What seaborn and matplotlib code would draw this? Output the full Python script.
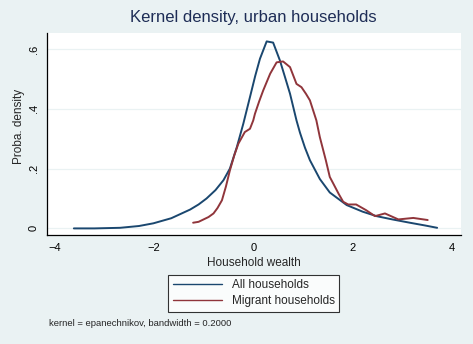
import numpy as np
import pandas as pd
import matplotlib
matplotlib.use("Agg")
import matplotlib.pyplot as plt
import seaborn as sns

# Valores (densidade kernel estimada)
x_all = [-3.61, -3.2, -2.68, -2.3, -2.01, -1.65, -1.27, -1.1, -0.94, -0.76, -0.60,
         -0.47, -0.33, -0.2, -0.066, 0.04, 0.135, 0.27, 0.40, 0.537, 0.64, 0.74,
         0.87, 0.94, 1.04, 1.14, 1.34, 1.54, 1.88, 2.2, 2.48, 2.8, 3.15, 3.45, 3.70]
y_all = [0.0, 0.0, 0.002, 0.008, 0.017, 0.034, 0.063, 0.08, 0.1, 0.128, 0.161,
         0.2, 0.272, 0.35, 0.439, 0.51, 0.567, 0.625, 0.621, 0.561, 0.505, 0.45,
         0.361, 0.32, 0.27, 0.228, 0.165, 0.12, 0.078, 0.056, 0.041, 0.03, 0.019,
         0.01, 0.002]

x_mig = [-1.21, -1.1, -1.0, -0.9, -0.8, -0.72, -0.63, -0.55, -0.47, -0.38, -0.30,
         -0.17, -0.066, 0.0, 0.034, 0.12, 0.2, 0.34, 0.47, 0.60, 0.74, 0.87, 0.97,
         1.06, 1.14, 1.27, 1.34, 1.46, 1.54, 1.61, 1.72, 1.81, 1.91, 2.07, 2.27,
         2.45, 2.65, 2.92, 3.22, 3.51]
y_mig = [0.019, 0.022, 0.03, 0.038, 0.05, 0.068, 0.094, 0.14, 0.194, 0.245, 0.283,
         0.322, 0.333, 0.361, 0.383, 0.425, 0.461, 0.517, 0.555, 0.558, 0.539,
         0.483, 0.472, 0.45, 0.428, 0.361, 0.305, 0.228, 0.172, 0.15, 0.115, 0.089,
         0.08, 0.08, 0.061, 0.041, 0.05, 0.03, 0.035, 0.028]

x_ticks = [-4, -2, 0, 2, 4]
y_ticks = [0, 0.2, 0.4, 0.6]
y_tick_labels = ["0", ".2", ".4", ".6"]

BG = "#eaf2f3"
AZUL = "#1a476f"
VERMELHO = "#90353b"

df = pd.concat([
    pd.DataFrame({"x": x_all, "y": y_all, "grupo": "All households"}),
    pd.DataFrame({"x": x_mig, "y": y_mig, "grupo": "Migrant households"}),
])

sns.set_style("white")
plt.rcParams["font.family"] = ["Liberation Sans", "DejaVu Sans"]

fig = plt.figure(figsize=(4.73, 3.44), dpi=100, facecolor=BG)
ax = fig.add_axes([0.0994, 0.3169, 0.8752, 0.5871])
ax.set_facecolor("white")

sns.lineplot(data=df, x="x", y="y", hue="grupo", palette=[AZUL, VERMELHO],
             linewidth=1.4, ax=ax, legend=False, sort=False)

ax.set_xlim(-4.15, 4.18)
ax.set_ylim(-0.022, 0.653)
ax.set_xticks(x_ticks)
ax.set_xticklabels([str(t).replace("-", "\u2212") for t in x_ticks])
ax.set_yticks(y_ticks)
ax.set_yticklabels(y_tick_labels, rotation=90, va="center")
for y in y_ticks:
    ax.axhline(y, color=BG, linewidth=0.9, zorder=0)

for s in ["top", "right"]:
    ax.spines[s].set_visible(False)
for s in ["left", "bottom"]:
    ax.spines[s].set_color("black")
    ax.spines[s].set_linewidth(0.9)
ax.tick_params(axis="both", direction="out", length=4, width=0.8,
               labelsize=8, colors="black", pad=2)

ax.set_xlabel("Household wealth", fontsize=8.5, labelpad=3)
ax.set_ylabel("Proba. density", fontsize=8.5, labelpad=3)
ax.yaxis.label.set_y(0.535)

fig.text(0.536, 0.95, "Kernel density, urban households", ha="center", va="center",
         fontsize=12, color="#1e2d56")

handles = [plt.Line2D([], [], color=AZUL, linewidth=1),
           plt.Line2D([], [], color=VERMELHO, linewidth=1)]
leg = fig.legend(handles, ["All households", "Migrant households"],
                 loc="center", bbox_to_anchor=(0.536, 0.147), fontsize=8.5,
                 frameon=True, fancybox=False, handlelength=4.2, handletextpad=0.8,
                 borderpad=0.35, labelspacing=0.35)
leg.get_frame().set_edgecolor("black")
leg.get_frame().set_linewidth(0.8)
leg.get_frame().set_facecolor("white")

fig.text(0.104, 0.061, "kernel = epanechnikov, bandwidth = 0.2000", ha="left",
         va="center", fontsize=6.8)

fig.savefig("out.png", dpi=100, facecolor=BG)
